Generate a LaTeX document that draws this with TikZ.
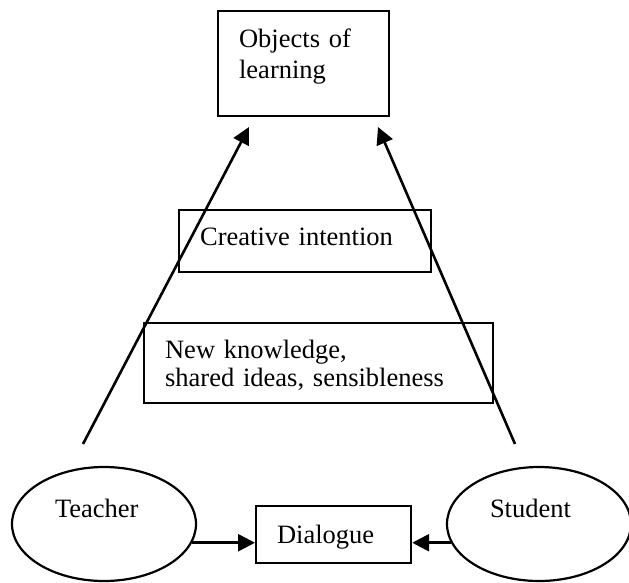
\documentclass[tikz,border=0pt]{standalone}
\usepackage{fontspec}
\setmainfont{Liberation Serif}
\usetikzlibrary{arrows.meta,shapes.geometric}
\tikzset{
	box/.style={draw, rectangle, line width=2.2pt, inner xsep=21pt, inner ysep=0pt, anchor=north west, align=left, text height=35pt, font=\fontsize{26.5}{28}\selectfont},
	actor/.style={draw, ellipse, line width=2.2pt, minimum width=184pt, minimum height=114pt, inner sep=0pt, text width=98pt, align=left, text height=20pt, text depth=34pt, font=\fontsize{26.5}{28}\selectfont},
	arr/.style={line width=2.6pt, -{Triangle[length=17pt,width=17pt]}}
}

\begin{document}
\begin{tikzpicture}[x=1pt, y=-1pt]
			%%%%% START %%%%%
			
			\useasboundingbox (0, 0) rectangle (629, 582);
			
			\node[box, text width=129pt, text height=36pt, text depth=69pt] (objects) at (217, 10) {Objects of\\[3pt]learning};
			\node[box, text width=210pt, text depth=27pt] (creative) at (178, 209) {Creative intention};
			\node[box, text width=307pt, text depth=45pt] (knowledge) at (143, 322) {New knowledge,\\shared ideas, sensibleness};
			
			\node[actor] (teacher) at (104, 524) {Teacher};
			\node[actor] (student) at (539, 524) {Student};
			\node[box, text width=113pt, text height=37pt, text depth=20pt] (dialogue) at (255, 505) {Dialogue};
			
			\coordinate (teacherfoot) at (83, 444);
			\coordinate (teachertip) at (249, 127);
			\coordinate (studentfoot) at (515, 444);
			\coordinate (studenttip) at (378, 127);
			
			\draw[arr] (teacherfoot) -- (teachertip);
			\draw[arr] (studentfoot) -- (studenttip);
			
			\draw[arr] (teacher.-12) -- (dialogue.west |- teacher.-12);
			\draw[arr] (student.192) -- (dialogue.east |- student.192);
			
			%%%%% END %%%%%
\end{tikzpicture}
\end{document}
